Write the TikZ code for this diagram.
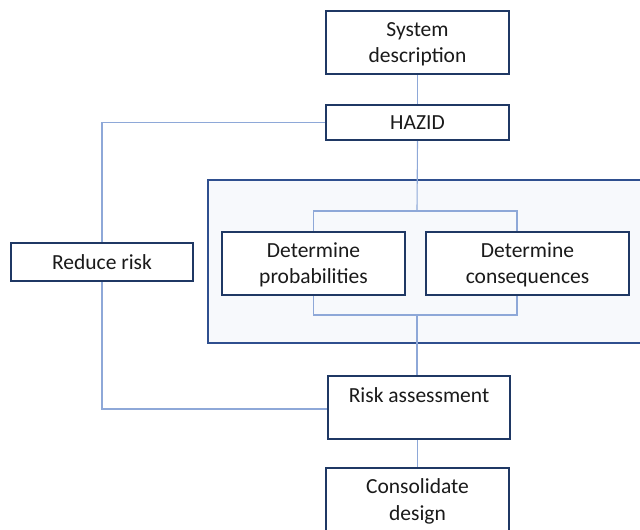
\documentclass[tikz,border=0pt]{standalone}
\usepackage{fontspec}
\setmainfont{Carlito}
\definecolor{boxline}{HTML}{1F3864}
\definecolor{panelline}{HTML}{2F4F8F}
\definecolor{panelfill}{HTML}{F7F9FC}
\definecolor{wire}{HTML}{8EA8D8}
\definecolor{ink}{HTML}{1A1A1A}
% two centred lines with a fixed line pitch, nudged slightly down
\newcommand{\twolines}[2]{\raisebox{-1.5pt}[\height][\depth]{%
  \begin{tabular}{@{}c@{}}#1\\#2\end{tabular}}}
\begin{document}
\begin{tikzpicture}[x=1pt,y=-1pt,
  every node/.style={font=\fontsize{21.5}{26.5}\selectfont, text=ink},
  stepbox/.style={draw=boxline, line width=2pt, fill=white, rectangle,
    align=center, inner sep=0pt},
  panelbox/.style={draw=panelline, line width=2pt, fill=panelfill},
  wireline/.style={draw=wire, line width=1.1pt}]
\useasboundingbox (0,0) rectangle (640,530);

% grouping panel behind the two parallel analysis steps
\path[panelbox] (208,180) rectangle (660,343);

% process steps
\node[stepbox, minimum width=183pt, minimum height=63pt] (sd) at (417.5,42.5) {\twolines{System}{description}};
\node[stepbox, minimum width=183pt, minimum height=35pt] (hazid) at (417.5,122.5) {HAZID};
\node[stepbox, minimum width=183pt, minimum height=63pt] (prob) at (313.5,263.5) {\twolines{Determine}{probabilities}};
\node[stepbox, minimum width=203pt, minimum height=63pt] (cons) at (527.5,263.5) {\twolines{Determine}{consequences}};
\node[stepbox, minimum width=182pt, text height=26pt, text depth=37pt, anchor=north] (ra) at (419,375) {Risk assessment};
\node[stepbox, minimum width=183pt, minimum height=75pt, anchor=north] (cd) at (417.5,467) {};
\node[anchor=center] (cdtext) at (417.5,500) {\twolines{Consolidate}{design}};
\node[stepbox, minimum width=182pt, minimum height=38pt] (rr) at (102,262) {Reduce risk};

% branch points of the parallel section
\coordinate (bt) at (417,211);
\coordinate (bb) at (417,315);

% connectors
\draw[wireline] (sd.south) -- (hazid.north);
\draw[wireline] (hazid.south) -- (bt);
\draw[wireline] (prob.north) |- (bt) -| ([xshift=-10.5pt]cons.north);
\draw[wireline] (prob.south) |- (bb) -| ([xshift=-10.5pt]cons.south);
\draw[wireline] (bb) -- (bb |- ra.north);
\draw[wireline] (cd.north |- ra.south) -- (cd.north);
\draw[wireline] (hazid.west) -| (rr.north);
\draw[wireline] (rr.south) |- ([yshift=-1.5pt]ra.west);
\end{tikzpicture}
\end{document}
